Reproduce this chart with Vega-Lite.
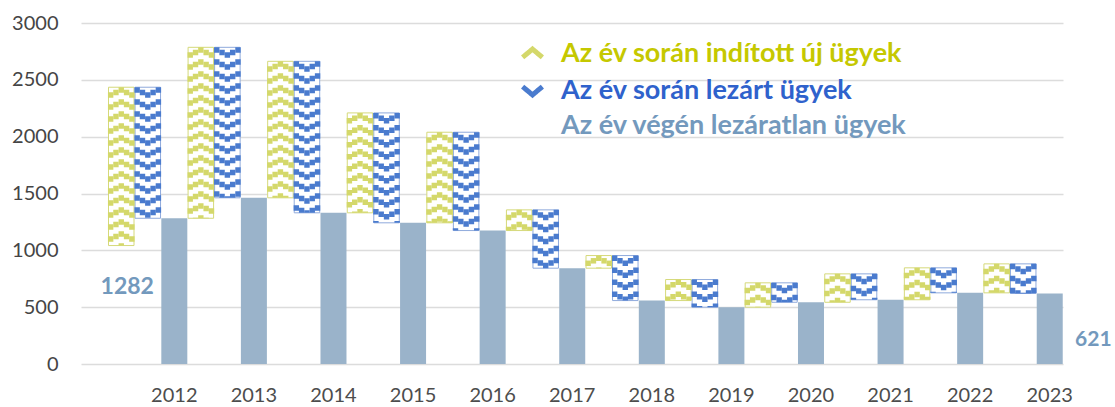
{
  "$schema": "https://vega.github.io/schema/vega-lite/v6.json",
  "width": 982,
  "height": 341,
  "autosize": "none",
  "padding": {"left": 81, "top": 23, "right": 52, "bottom": 43},
  "background": "white",
  "config": {
    "view": {"stroke": null},
    "font": "Lato",
    "text": {"font": "Lato"},
    "legend": {"labelLimit": 0}
  },
  "data": {
    "values": [
      {"ev": "2012", "nyito": 1042, "osszes": 2435, "zaro": 1282},
      {"ev": "2013", "nyito": 1282, "osszes": 2786, "zaro": 1462},
      {"ev": "2014", "nyito": 1462, "osszes": 2663, "zaro": 1330},
      {"ev": "2015", "nyito": 1330, "osszes": 2209, "zaro": 1242},
      {"ev": "2016", "nyito": 1242, "osszes": 2039, "zaro": 1174},
      {"ev": "2017", "nyito": 1174, "osszes": 1356, "zaro": 843},
      {"ev": "2018", "nyito": 843, "osszes": 954, "zaro": 558},
      {"ev": "2019", "nyito": 558, "osszes": 743, "zaro": 500},
      {"ev": "2020", "nyito": 500, "osszes": 714, "zaro": 543},
      {"ev": "2021", "nyito": 543, "osszes": 793, "zaro": 565},
      {"ev": "2022", "nyito": 565, "osszes": 846, "zaro": 626},
      {"ev": "2023", "nyito": 626, "osszes": 881, "zaro": 621}
    ]
  },
  "encoding": {
    "x": {
      "field": "ev", "type": "nominal", "title": null,
      "scale": {"paddingInner": 0, "paddingOuter": 0.1696, "align": 1},
      "axis": {"labelAngle": 0, "domain": false, "ticks": false, "grid": false, "labelOffset": 26.5, "labelPadding": 21, "labelFont": "Lato", "labelFontSize": 20, "labelColor": "#4D4D4D"}
    }
  },
  "layer": [
    {
      "mark": {"type": "bar", "fill": "white", "stroke": "#D5D97A", "strokeWidth": 1, "width": 25.5},
      "encoding": {
        "xOffset": {"datum": "Y3", "scale": {"domain": ["Y1","Y2","Y3","Y4","Y5","B1","B2","B3","B4","B5","S1","S2","S3","S4","S5"], "paddingInner": 0, "paddingOuter": 0}},
        "y": {"field": "osszes", "type": "quantitative", "title": null,
              "scale": {"domain": [0, 3000], "nice": false},
              "axis": {"values": [0, 500, 1000, 1500, 2000, 2500, 3000], "format": "d", "domain": false, "ticks": false, "tickSize": 0, "labelPadding": 23, "labelFont": "Lato", "labelFontSize": 20, "labelColor": "#454545", "gridColor": "#DCDCDC", "gridWidth": 1.5}},
        "y2": {"field": "nyito"}
      }
    },
    {
      "mark": {"type": "bar", "fill": "white", "stroke": "#8FAADC", "strokeWidth": 1, "width": 25.5},
      "encoding": {
        "xOffset": {"datum": "B3"},
        "y": {"field": "osszes", "type": "quantitative"},
        "y2": {"field": "zaro"}
      }
    },
    {
      "mark": {"type": "bar", "width": 26},
      "encoding": {
        "xOffset": {"datum": "S3"},
        "y": {"field": "zaro", "type": "quantitative"},
        "color": {"datum": "Az év végén lezáratlan ügyek", "type": "nominal", "scale": {"range": ["#9AB3CA"]},
          "legend": {"title": null, "orient": "none", "legendX": 438, "legendY": 89, "padding": 0, "symbolType": "M-0.9,0.35L0,-0.4L0.9,0.35", "symbolSize": 480, "symbolOpacity": 0, "labelFont": "Lato", "labelFontSize": 27, "labelFontWeight": "bold", "labelColor": "#7399BD", "labelOffset": 15, "labelLimit": 0}}
      }
    },
    {"mark": {"type": "rule", "color": "#D4D86A", "strokeWidth": 5.4, "strokeDash": [5.5, 6.5], "strokeDashOffset": 7}, "encoding": {"xOffset": {"datum": "Y1"}, "y": {"field": "osszes", "type": "quantitative"}, "y2": {"field": "nyito"}}},
    {"mark": {"type": "rule", "color": "#D4D86A", "strokeWidth": 5.4, "strokeDash": [5.5, 6.5], "strokeDashOffset": 9.5}, "encoding": {"xOffset": {"datum": "Y2"}, "y": {"field": "osszes", "type": "quantitative"}, "y2": {"field": "nyito"}}},
    {"mark": {"type": "rule", "strokeWidth": 5.4, "strokeDash": [5.5, 6.5], "strokeDashOffset": 0}, "encoding": {"xOffset": {"datum": "Y3"}, "y": {"field": "osszes", "type": "quantitative"}, "y2": {"field": "nyito"},
      "color": {"datum": "Az év során indított új ügyek", "type": "nominal", "scale": {"range": ["#D4D86A"]},
        "legend": {"title": null, "orient": "none", "legendX": 438, "legendY": 17, "padding": 0, "symbolType": "M-0.9,0.35L0,-0.4L0.9,0.35", "symbolSize": 480, "symbolStrokeWidth": 5, "symbolStrokeColor": "#C8CB1E", "symbolDash": [1, 0], "labelFont": "Lato", "labelFontSize": 27, "labelFontWeight": "bold", "labelColor": "#C5C800", "labelOffset": 15, "labelLimit": 0}}}},
    {"mark": {"type": "rule", "color": "#D4D86A", "strokeWidth": 5.4, "strokeDash": [5.5, 6.5], "strokeDashOffset": 9.5}, "encoding": {"xOffset": {"datum": "Y4"}, "y": {"field": "osszes", "type": "quantitative"}, "y2": {"field": "nyito"}}},
    {"mark": {"type": "rule", "color": "#D4D86A", "strokeWidth": 5.4, "strokeDash": [5.5, 6.5], "strokeDashOffset": 7}, "encoding": {"xOffset": {"datum": "Y5"}, "y": {"field": "osszes", "type": "quantitative"}, "y2": {"field": "nyito"}}},
    {"mark": {"type": "rule", "color": "#4A7BCE", "strokeWidth": 5.4, "strokeDash": [5.5, 6.5], "strokeDashOffset": 0}, "encoding": {"xOffset": {"datum": "B1"}, "y": {"field": "osszes", "type": "quantitative"}, "y2": {"field": "zaro"}}},
    {"mark": {"type": "rule", "color": "#4A7BCE", "strokeWidth": 5.4, "strokeDash": [5.5, 6.5], "strokeDashOffset": 9.5}, "encoding": {"xOffset": {"datum": "B2"}, "y": {"field": "osszes", "type": "quantitative"}, "y2": {"field": "zaro"}}},
    {"mark": {"type": "rule", "strokeWidth": 5.4, "strokeDash": [5.5, 6.5], "strokeDashOffset": 7}, "encoding": {"xOffset": {"datum": "B3"}, "y": {"field": "osszes", "type": "quantitative"}, "y2": {"field": "zaro"},
      "color": {"datum": "Az év során lezárt ügyek", "type": "nominal", "scale": {"range": ["#4A7BCE"]},
        "legend": {"title": null, "orient": "none", "legendX": 438, "legendY": 54, "padding": 0, "symbolType": "M-0.9,-0.35L0,0.4L0.9,-0.35", "symbolSize": 480, "symbolStrokeWidth": 5, "symbolStrokeColor": "#4F7FD0", "symbolDash": [1, 0], "labelFont": "Lato", "labelFontSize": 27, "labelFontWeight": "bold", "labelColor": "#2F62CC", "labelOffset": 15, "labelLimit": 0}}}},
    {"mark": {"type": "rule", "color": "#4A7BCE", "strokeWidth": 5.4, "strokeDash": [5.5, 6.5], "strokeDashOffset": 9.5}, "encoding": {"xOffset": {"datum": "B4"}, "y": {"field": "osszes", "type": "quantitative"}, "y2": {"field": "zaro"}}},
    {"mark": {"type": "rule", "color": "#4A7BCE", "strokeWidth": 5.4, "strokeDash": [5.5, 6.5], "strokeDashOffset": 0}, "encoding": {"xOffset": {"datum": "B5"}, "y": {"field": "osszes", "type": "quantitative"}, "y2": {"field": "zaro"}}},
    {
      "transform": [{"filter": "datum.ev == '2012'"}],
      "mark": {"type": "text", "font": "Lato", "fontSize": 23, "fontWeight": "bold", "color": "#7399BD", "baseline": "middle", "align": "center", "dx": 6, "dy": 69},
      "encoding": {"xOffset": {"datum": "Y3"}, "y": {"field": "zaro", "type": "quantitative"}, "text": {"field": "zaro", "type": "quantitative"}}
    },
    {
      "transform": [{"filter": "datum.ev == '2023'"}],
      "mark": {"type": "text", "font": "Lato", "fontSize": 21, "fontWeight": "bold", "color": "#7399BD", "baseline": "middle", "align": "center", "dx": 33, "dy": 47},
      "encoding": {"xOffset": {"datum": "S5"}, "y": {"field": "zaro", "type": "quantitative"}, "text": {"field": "zaro", "type": "quantitative"}}
    }
  ],
  "resolve": {"scale": {"color": "independent"}}
}
